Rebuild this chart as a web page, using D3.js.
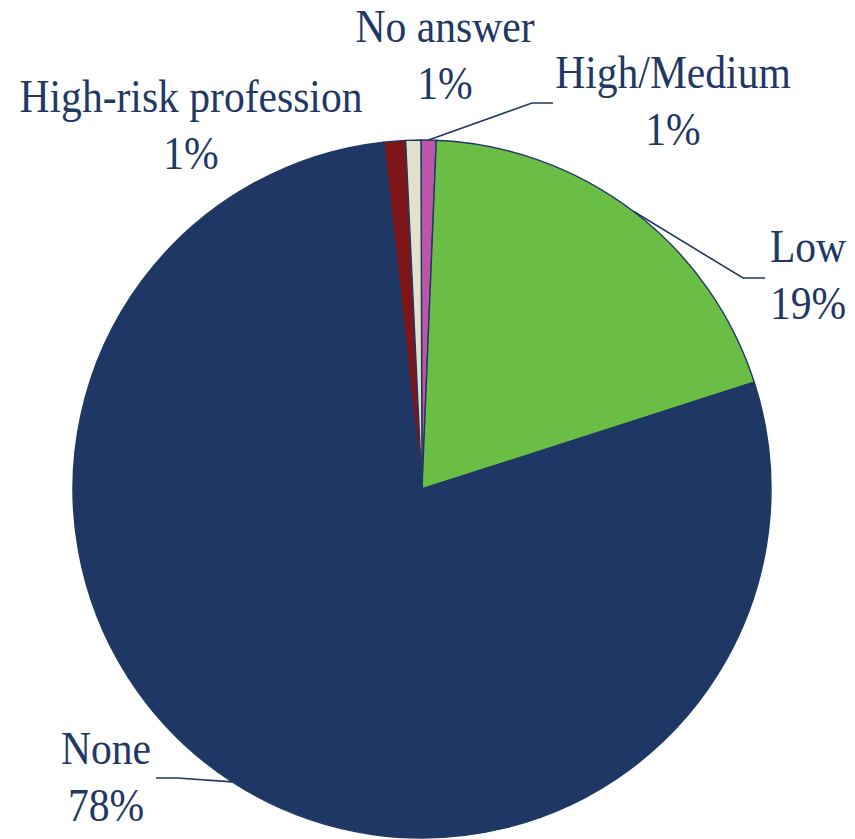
<!DOCTYPE html>
<html>
<head>
<meta charset="utf-8">
<script src="https://cdn.jsdelivr.net/npm/d3@7"></script>
<style>
  html, body { margin: 0; padding: 0; background: #ffffff; }
  svg { display: block; }
  text { font-family: "Liberation Serif", "Times New Roman", serif; fill: #1F3864; }
</style>
</head>
<body>
<svg id="chart" width="855" height="839"></svg>
<script>
// ---- data ----
const categories = ["High/Medium", "Low", "None", "High-risk profession", "No answer"];
const values = [0.7, 19.4, 78.2, 1.0, 0.7];
const percentLabels = ["1%", "19%", "78%", "1%", "1%"];
const colors = ["#BC56A6", "#6ABD45", "#1E3764", "#7E1618", "#E3E1CB"];

// ---- layout ----
const W = 855, H = 839;
const cx = 422, cy = 489, R = 349;
const startDeg = -0.17;
const fontSize = 47, squeeze = 0.885;
// label anchor points (text centre x, first-line baseline y) and whether a leader line is drawn
const labelPos = [
  { x: 673, y: 88, leader: true, elbow: [532, 103], end: [553, 103] },
  { x: 808, y: 262, leader: true, elbow: [743, 278], end: [765, 278] },
  { x: 106, y: 764, leader: true, elbow: [177, 778], end: [156, 778] },
  { x: 191, y: 112, leader: false },
  { x: 445, y: 42, leader: false }
];
const lineGap = 57;

const svg = d3.select("#chart");
const g = svg.append("g").attr("transform", `translate(${cx},${cy})`);

const toRad = d => d * Math.PI / 180;
const pie = d3.pie().sort(null).value(d => d)
  .startAngle(toRad(startDeg)).endAngle(toRad(startDeg + 360));
const arcs = pie(values);
const arc = d3.arc().innerRadius(0).outerRadius(R);

g.selectAll("path.slice")
  .data(arcs)
  .join("path")
  .attr("class", "slice")
  .attr("d", arc)
  .attr("fill", (d, i) => colors[i])
  .attr("stroke", "#1F3864")
  .attr("stroke-width", 1.4)
  .attr("stroke-linejoin", "round");

// leader lines
arcs.forEach((a, i) => {
  const lp = labelPos[i];
  if (!lp.leader) return;
  const mid = (a.startAngle + a.endAngle) / 2;
  const px = cx + Math.sin(mid) * R;
  const py = cy - Math.cos(mid) * R;
  svg.append("polyline")
    .attr("points", `${px},${py} ${lp.elbow[0]},${lp.elbow[1]} ${lp.end[0]},${lp.end[1]}`)
    .attr("fill", "none")
    .attr("stroke", "#1F3864")
    .attr("stroke-width", 1.6);
});

// labels
categories.forEach((c, i) => {
  const lp = labelPos[i];
  const t = svg.append("text")
    .attr("transform", `translate(${lp.x},${lp.y}) scale(${squeeze},1)`)
    .attr("text-anchor", "middle")
    .attr("font-size", fontSize);
  t.append("tspan").attr("x", 0).attr("y", 0).text(c);
  t.append("tspan").attr("x", 0).attr("y", lineGap).text(percentLabels[i]);
});
</script>
</body>
</html>
